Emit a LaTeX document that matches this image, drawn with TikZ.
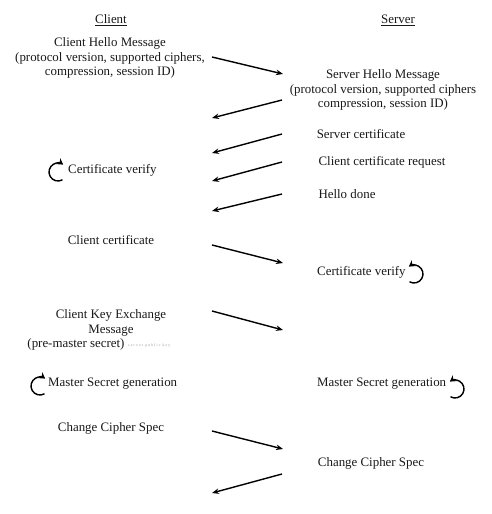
\documentclass[tikz,border=0pt]{standalone}
\usepackage{fontspec}
\setmainfont{Liberation Serif}
\usetikzlibrary{arrows.meta,calc}
\begin{document}
\begin{tikzpicture}[x=1pt,y=-1pt,
  lbl/.style={font=\fontsize{12.9}{14.5}\selectfont, align=center, inner sep=0pt, text=black!90},
  msg/.style={line width=1.4pt, -{Stealth[length=7pt,width=5.5pt]}},
  loop/.style={line width=1.4pt, -{Stealth[length=6pt,width=7pt]}}]
\useasboundingbox[fill=white] (0,0) rectangle (492,514);
% headers
\node[lbl] (cl) at (111,20) {\underline{Client}};
\node[lbl] (sv) at (398,20) {\underline{Server}};
% client texts
\node[lbl] (chello) at (110,58) {Client Hello Message\\(protocol version, supported ciphers,\\compression, session ID)};
\node[lbl, anchor=west] (ccv) at (68,170) {Certificate verify};
\node[lbl] (ccert) at (111,240) {Client certificate};
\node[lbl] (ckx) at (111,323) {Client Key Exchange\\Message};
\node[lbl] (pms) at (76,344) {(pre-master secret)};
\node[anchor=west, inner sep=0pt, text=black!40, font=\fontsize{3.8}{4}\selectfont\addfontfeatures{LetterSpace=30}] (spk) at (128,346) {server public key};
\node[lbl, anchor=west] (cms) at (48,384) {Master Secret generation};
\node[lbl] (cccs) at (111,428) {Change Cipher Spec};
% server texts
\node[lbl] (shello) at (383,90) {Server Hello Message\\(protocol version, supported ciphers\\compression, session ID)};
\node[lbl] (scert) at (361,134) {Server certificate};
\node[lbl] (ccr) at (382,162) {Client certificate request};
\node[lbl] (hd) at (347,194) {Hello done};
\node[lbl, anchor=west] (scv) at (317,272) {Certificate verify};
\node[lbl, anchor=west] (sms) at (317,384) {Master Secret generation};
\node[lbl] (sccs) at (371,463) {Change Cipher Spec};
% arrow endpoints
\coordinate (a1s) at (212,57);  \coordinate (a1e) at (283,74);
\coordinate (a2s) at (282,100); \coordinate (a2e) at (212,118);
\coordinate (a3s) at (282,134); \coordinate (a3e) at (212,153);
\coordinate (a4s) at (282,162); \coordinate (a4e) at (212,181);
\coordinate (a5s) at (282,194); \coordinate (a5e) at (212,211);
\coordinate (a6s) at (212,245); \coordinate (a6e) at (283,263);
\coordinate (a7s) at (212,311); \coordinate (a7e) at (283,330);
\coordinate (a8s) at (212,431); \coordinate (a8e) at (283,449);
\coordinate (a9s) at (282,474); \coordinate (a9e) at (212,493);
\foreach \i in {1,...,9} {\draw[msg] (a\i s) -- (a\i e);}
% self loops
\coordinate (l1) at (58,172);
\coordinate (l2) at (414,274);
\coordinate (l3) at (40,386);
\coordinate (l4) at (455,389);
\draw[loop] ($(l1)+(60:9)$) arc[start angle=60, end angle=305, radius=9];
\draw[loop] ($(l3)+(60:9)$) arc[start angle=60, end angle=305, radius=9];
\draw[loop] ($(l2)+(120:9)$) arc[start angle=120, end angle=-125, radius=9];
\draw[loop] ($(l4)+(120:9)$) arc[start angle=120, end angle=-125, radius=9];
\end{tikzpicture}
\end{document}
